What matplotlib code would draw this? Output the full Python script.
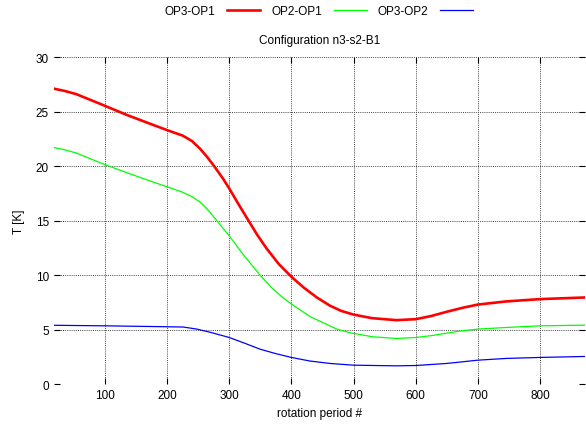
import matplotlib
matplotlib.use('Agg')
import matplotlib.pyplot as plt

plt.rcParams['font.family'] = ['Liberation Sans', 'DejaVu Sans']

# rotation period # and temperature differences [K]
per_red = [18, 35, 54, 97, 135, 172, 200, 225, 240, 253, 265, 277, 290, 300, 315, 331, 345,
           360, 380, 400, 420, 441, 462, 480, 500, 530, 569, 600, 625, 650, 675, 700,
           746, 800, 872]
op3_op1 = [27.1, 26.9, 26.6, 25.6, 24.7, 23.9, 23.3, 22.8, 22.3, 21.6, 20.8, 19.9, 18.85,
           17.95, 16.5, 15.0, 13.7, 12.45, 11.0, 9.85, 8.85, 7.95, 7.2, 6.72, 6.38, 6.05,
           5.87, 5.96, 6.25, 6.64, 7.0, 7.3, 7.59, 7.8, 7.95]

per_green = [18, 35, 54, 97, 135, 172, 200, 225, 240, 253, 264, 280, 300, 323, 351, 370,
             387, 400, 430, 473, 494, 530, 569, 600, 625, 650, 675, 700, 746, 800, 872]
op2_op1 = [21.7, 21.5, 21.2, 20.2, 19.4, 18.65, 18.1, 17.6, 17.2, 16.7, 16.1, 15.0, 13.6,
           11.85, 9.9, 8.75, 7.9, 7.35, 6.2, 5.05, 4.72, 4.35, 4.19, 4.28, 4.45, 4.68,
           4.9, 5.05, 5.2, 5.35, 5.41]

per_blue = [18, 100, 172, 226, 248, 270, 300, 325, 350, 375, 400, 430, 462, 500, 569,
            600, 650, 700, 746, 800, 872]
op3_op2 = [5.4, 5.35, 5.29, 5.24, 5.05, 4.75, 4.28, 3.75, 3.2, 2.8, 2.45, 2.12, 1.9,
           1.74, 1.68, 1.71, 1.9, 2.2, 2.36, 2.45, 2.54]

fig = plt.figure(figsize=(5.86, 4.27), dpi=100)
ax = fig.add_axes([0.092, 0.098, 0.906, 0.766])

l1, = ax.plot(per_red, op3_op1, color='#ff0000', lw=1.9, solid_joinstyle='round')
l2, = ax.plot(per_green, op2_op1, color='#00ff00', lw=0.9, solid_joinstyle='round')
l3, = ax.plot(per_blue, op3_op2, color='#0000ff', lw=0.9, solid_joinstyle='round')

ax.set_xlim(18, 872)
ax.set_ylim(0, 30)
ax.set_xticks([100, 200, 300, 400, 500, 600, 700, 800])
ax.set_yticks([0, 5, 10, 15, 20, 25, 30])
ax.grid(True, color='#444444', linestyle=(0, (1, 1.2)), linewidth=0.7)
ax.set_axisbelow(True)
for s in ax.spines.values():
    s.set_visible(False)
ax.tick_params(direction='in', length=4, width=0.8, top=True, right=True, labelsize=8.5)
ax.set_xlabel('rotation period #', fontsize=8.5, labelpad=4)
ax.set_ylabel('T [K]', fontsize=8.5, labelpad=8)
ax.set_title('Configuration n3-s2-B1', fontsize=8.5, pad=10)

fig.legend([l1, l2, l3], ['OP3-OP1', 'OP2-OP1', 'OP3-OP2'], loc='center',
           bbox_to_anchor=(0.544, 0.972), ncol=3, markerfirst=False, frameon=False,
           fontsize=8.5, handlelength=2.8, columnspacing=0.95, handletextpad=1.0)

fig.savefig('out.png', dpi=100)
